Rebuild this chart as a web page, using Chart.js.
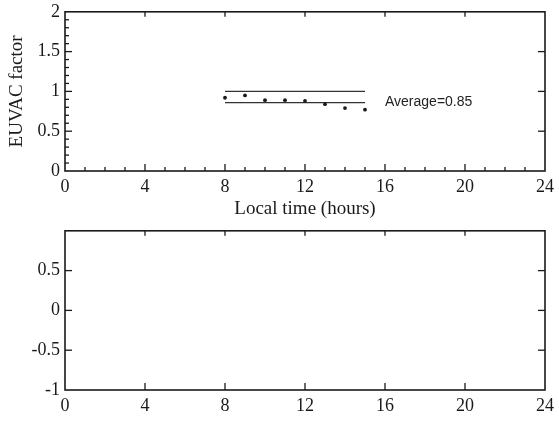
<!DOCTYPE html>
<html>
<head>
<meta charset="utf-8">
<script src="https://cdn.jsdelivr.net/npm/chart.js@4"></script>
<style>
  html, body { margin: 0; padding: 0; background: #fff; }
  #wrap { position: relative; width: 559px; height: 421px; overflow: hidden; }
  canvas { position: absolute; left: 0; }
</style>
</head>
<body>
<div id="wrap">
  <canvas id="top" width="559" height="226" style="top:-4px"></canvas>
  <canvas id="bottom" width="559" height="206" style="top:215px"></canvas>
</div>
<script>
// data
const hours = [8, 9, 10, 11, 12, 13, 14, 15];
const euvacFactor = [0.92, 0.95, 0.89, 0.89, 0.88, 0.84, 0.79, 0.77];
const refLineX = [8, 15];
const refLineY = [1.0, 1.0];
const avgLineY = [0.86, 0.86];
const avgText = 'Average=0.85';
const avgTextHour = 16;

const xTickLabels = ['0', '4', '8', '12', '16', '20', '24'];
const yTopTickLabels = ['0', '0.5', '1', '1.5', '2'];
const yBottomTickLabels = ['-1', '-0.5', '0', '0.5', ''];

const SERIF = "'Liberation Serif', 'Times New Roman', serif";
const INK = '#1a1a1a';

function pts(xs, ys) {
    let out = [];
    for (let i = 0; i < xs.length; i++) out.push({x: xs[i], y: ys[i]});
    return out;
}

// frame and inward tick marks, drawn through the scales
const framePlugin = {
    id: 'frame',
    afterDraw(chart, args, opts) {
        const ctx = chart.ctx;
        const a = chart.chartArea;
        const sx = chart.scales.x, sy = chart.scales.y;
        ctx.save();
        ctx.strokeStyle = INK;
        ctx.lineWidth = 1.3;
        for (let v = sx.min; v <= sx.max; v += 1) {
            const px = sx.getPixelForValue(v);
            const major = v % 4 == 0;
            if (!major && !opts.xMinor) continue;
            if (v == sx.min || v == sx.max) continue;
            ctx.beginPath();
            ctx.moveTo(px, a.bottom);
            ctx.lineTo(px, a.bottom - (major ? 7 : 4));
            ctx.stroke();
            if (major) {
                ctx.beginPath();
                ctx.moveTo(px, a.top);
                ctx.lineTo(px, a.top + 5);
                ctx.stroke();
            }
        }
        const n = Math.round((sy.max - sy.min) / 0.1);
        for (let i = 1; i < n; i++) {
            const v = sy.min + i * 0.1;
            const py = sy.getPixelForValue(v);
            const major = i % 5 == 0;
            if (!major && !opts.yMinor) continue;
            ctx.beginPath();
            ctx.moveTo(a.left, py);
            ctx.lineTo(a.left + (major ? 7 : 4), py);
            ctx.stroke();
            if (major) {
                ctx.beginPath();
                ctx.moveTo(a.right, py);
                ctx.lineTo(a.right - 7, py);
                ctx.stroke();
            }
        }
        ctx.lineWidth = 1.6;
        ctx.strokeRect(a.left, a.top, a.right - a.left, a.bottom - a.top);
        ctx.restore();
    }
};

const avgLabelPlugin = {
    id: 'avgLabel',
    afterDatasetsDraw(chart) {
        if (chart.canvas.id != 'top') return;
        const ctx = chart.ctx;
        ctx.save();
        ctx.font = "14px 'Liberation Sans', Arial, sans-serif";
        ctx.fillStyle = '#222';
        ctx.textBaseline = 'middle';
        ctx.fillText(avgText, chart.scales.x.getPixelForValue(avgTextHour), chart.scales.y.getPixelForValue(avgLineY[0]));
        ctx.restore();
    }
};

function xScale(height, title) {
    return {
        type: 'linear', min: 0, max: 24,
        grid: {display: false, drawTicks: false, tickLength: 0}, border: {display: false},
        ticks: {stepSize: 4, padding: 5, color: INK, font: {family: SERIF, size: 18},
                maxRotation: 0, autoSkip: false,
                callback: (v, i) => xTickLabels[i]},
        title: title ? {display: true, text: title, color: INK, font: {family: SERIF, size: 19},
                        padding: {top: 0, bottom: 2}} : {display: false},
        afterFit: s => { s.height = height; }
    };
}

function yScale(min, max, labels, title) {
    return {
        type: 'linear', min: min, max: max,
        grid: {display: false, drawTicks: false, tickLength: 0}, border: {display: false},
        ticks: {stepSize: 0.5, padding: 5, color: INK, font: {family: SERIF, size: 18},
                autoSkip: false, callback: (v, i) => labels[i]},
        title: title ? {display: true, text: title, color: INK, font: {family: SERIF, size: 19},
                        padding: {top: 6, bottom: 0}} : {display: false},
        afterFit: s => { s.width = 65; }
    };
}

Chart.register(framePlugin, avgLabelPlugin);

new Chart(document.getElementById('top').getContext('2d'), {
    type: 'scatter',
    data: {
        datasets: [{
            data: pts(hours, euvacFactor),
            pointRadius: 1.9, pointBackgroundColor: INK, pointBorderWidth: 0,
            showLine: false
        }, {
            data: pts(refLineX, refLineY),
            showLine: true, borderColor: '#333', borderWidth: 1.3, pointRadius: 0
        }, {
            data: pts(refLineX, avgLineY),
            showLine: true, borderColor: '#333', borderWidth: 1.3, pointRadius: 0
        }]
    },
    options: {
        responsive: false, animation: false,
        layout: {padding: {top: 15, right: 14, left: 0, bottom: 0}},
        plugins: {legend: {display: false}, tooltip: {enabled: false},
                  frame: {xMinor: true, yMinor: true}},
        scales: {
            x: xScale(51, 'Local time (hours)'),
            y: yScale(0, 2, yTopTickLabels, 'EUVAC factor')
        }
    }
});

new Chart(document.getElementById('bottom').getContext('2d'), {
    type: 'scatter',
    data: {datasets: []},
    options: {
        responsive: false, animation: false,
        layout: {padding: {top: 15, right: 14, left: 0, bottom: 0}},
        plugins: {legend: {display: false}, tooltip: {enabled: false},
                  frame: {xMinor: false, yMinor: false}},
        scales: {
            x: xScale(31, null),
            y: yScale(-1, 1, yBottomTickLabels, null)
        }
    }
});
</script>
</body>
</html>
